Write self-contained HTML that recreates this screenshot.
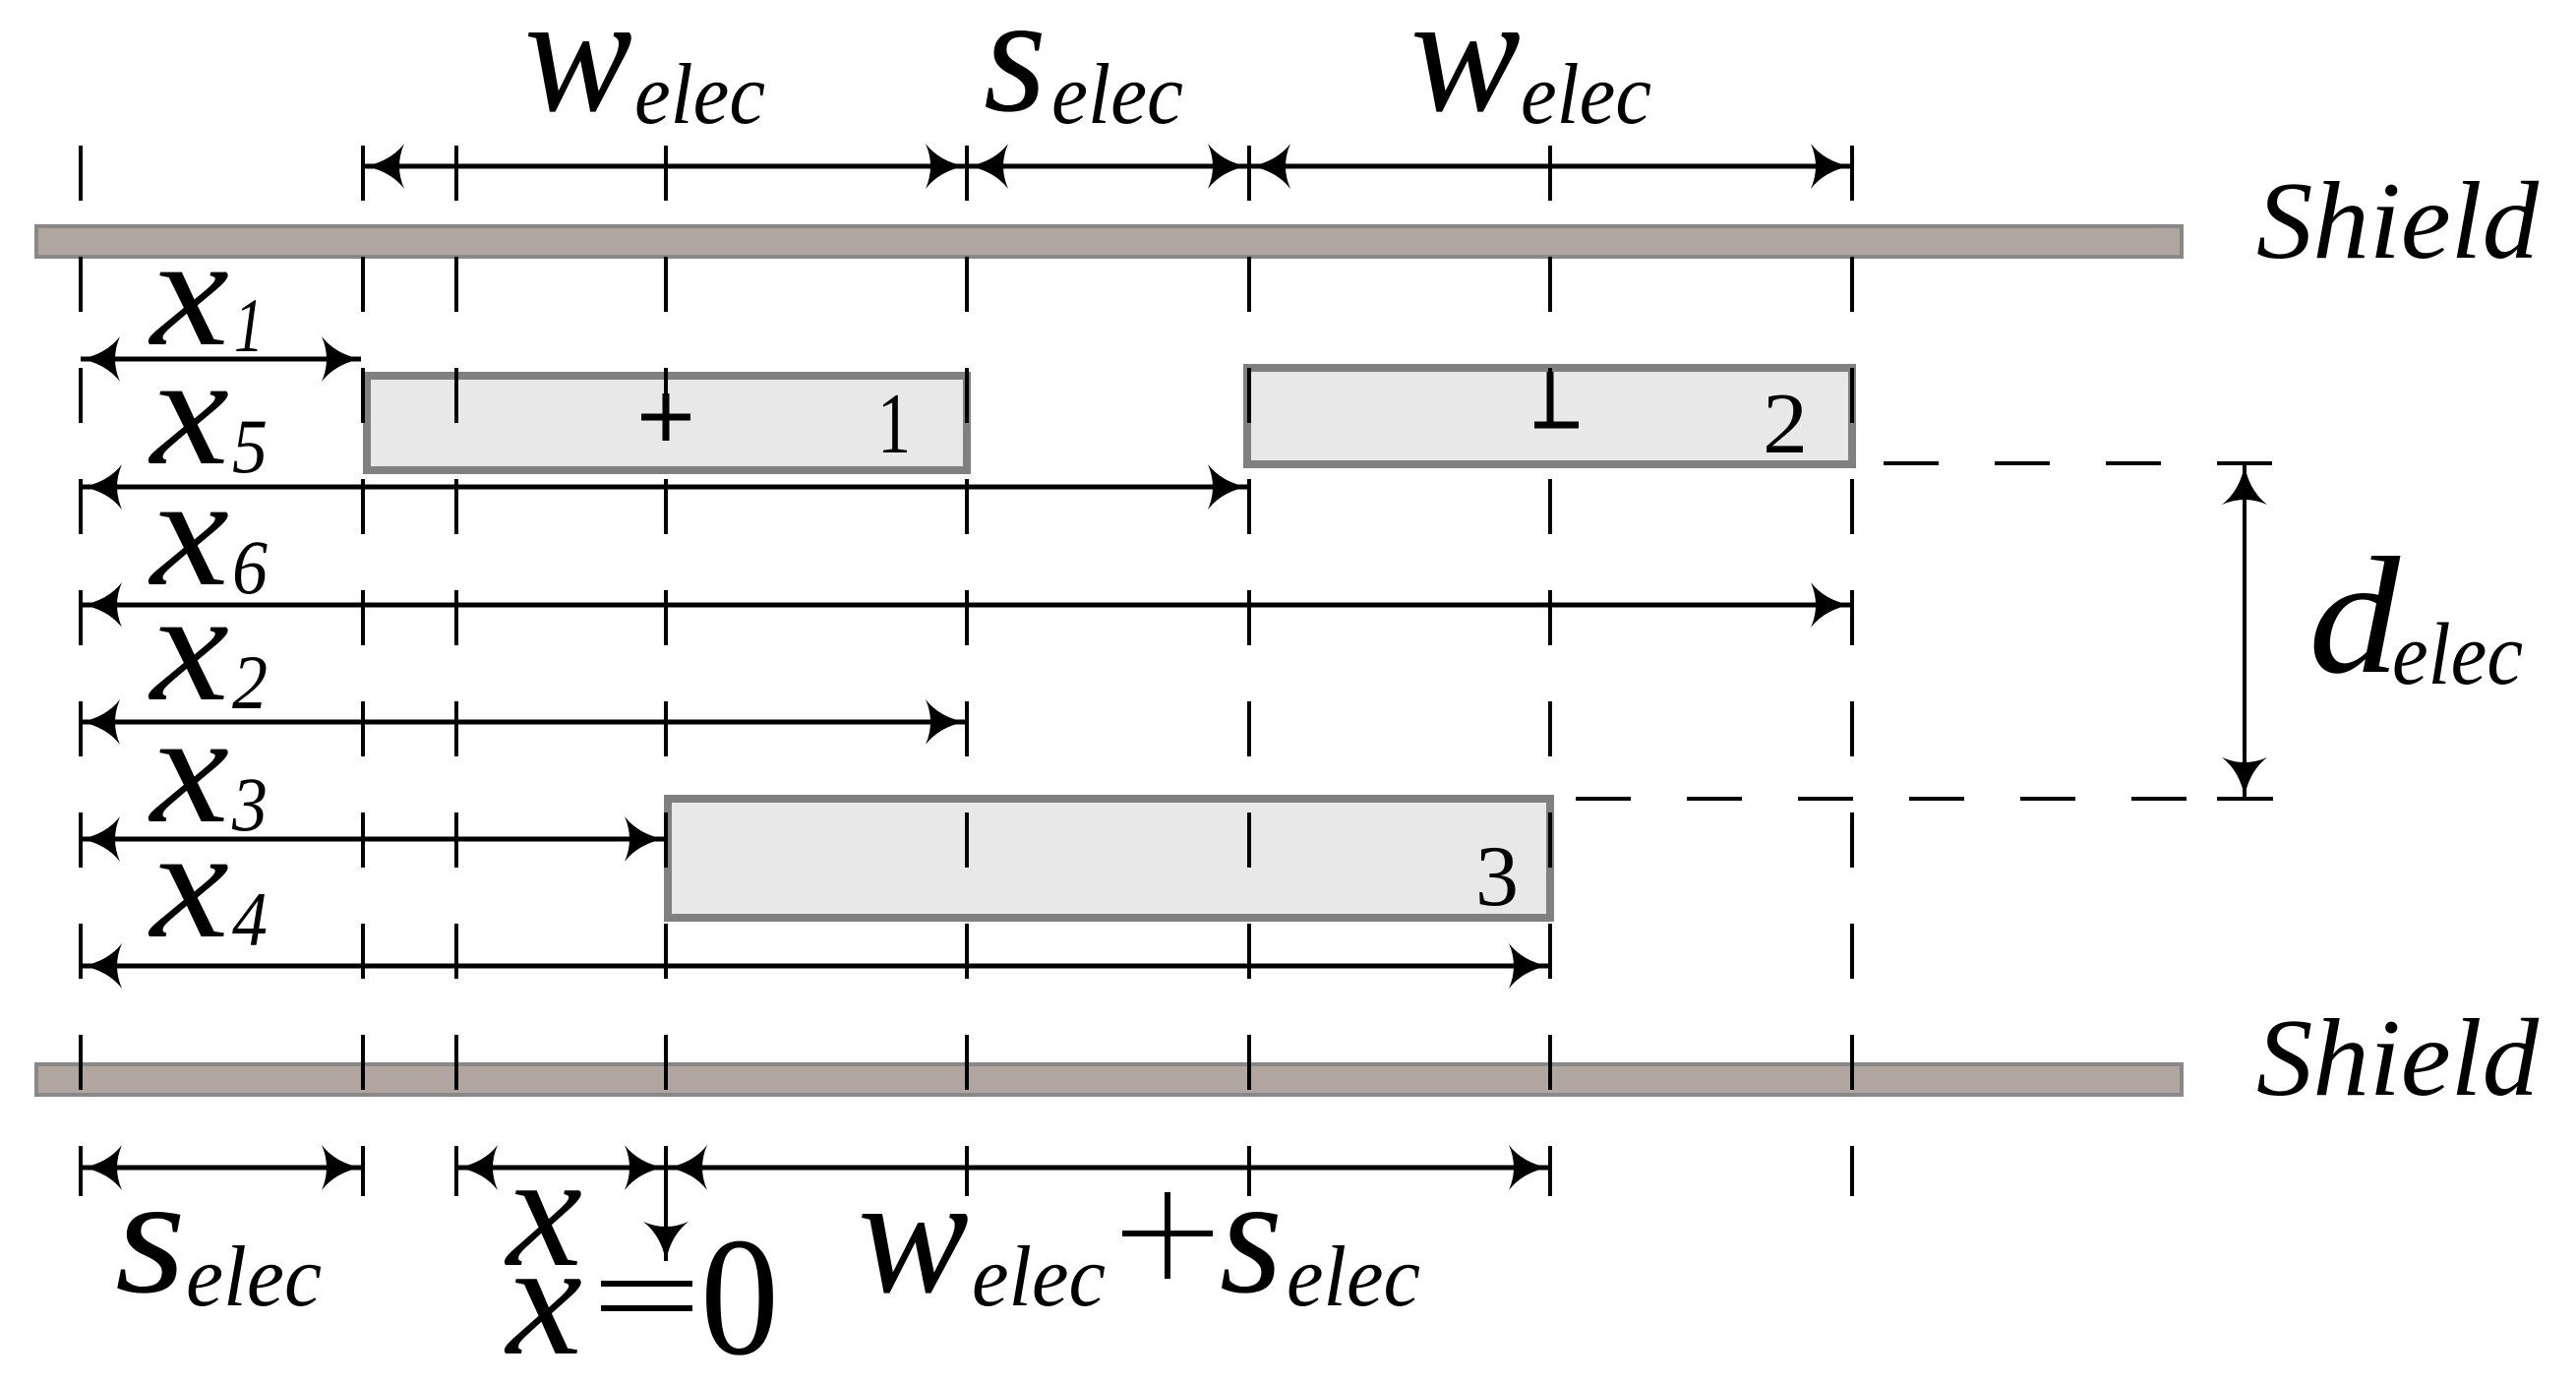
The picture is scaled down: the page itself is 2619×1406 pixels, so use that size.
<!DOCTYPE html>
<html><head><meta charset="utf-8"><style>
html,body{margin:0;padding:0;background:#fff;}
svg{display:block;}
text{font-family:"Liberation Serif",serif;font-style:italic;fill:#000;}
.n{font-style:normal;}
</style></head><body>
<svg width="2619" height="1406" viewBox="0 0 2619 1406" xmlns="http://www.w3.org/2000/svg">
<defs>
<marker id="ah" viewBox="0 0 40 46" refX="40" refY="23" markerWidth="40" markerHeight="46" markerUnits="userSpaceOnUse" orient="auto-start-reverse">
<path d="M0,0 Q14,18 40,23 Q14,28 0,46 Q10,23 0,0 Z" fill="#000"/>
</marker>
</defs>

<!-- shields -->
<rect x="37" y="230" width="2181" height="31" fill="#b0a59f" stroke="#888" stroke-width="4"/>
<rect x="37" y="1082" width="2181" height="31" fill="#b0a59f" stroke="#888" stroke-width="4"/>

<!-- electrodes -->
<rect x="373" y="382" width="610" height="96" fill="#e8e8e8" stroke="#808080" stroke-width="8"/>
<rect x="1268" y="374" width="615" height="98" fill="#e8e8e8" stroke="#808080" stroke-width="8"/>
<rect x="679" y="812" width="897" height="121" fill="#e8e8e8" stroke="#808080" stroke-width="8"/>

<!-- dashed vertical guides -->
<g stroke="#000" stroke-width="4" stroke-dasharray="56 57">
<line x1="82" y1="148" x2="82" y2="1216"/>
<line x1="369" y1="148" x2="369" y2="1216"/>
<line x1="464" y1="148" x2="464" y2="1216"/>
<line x1="677" y1="148" x2="677" y2="1216"/>
<line x1="983" y1="148" x2="983" y2="1216"/>
<line x1="1270" y1="148" x2="1270" y2="1216"/>
<line x1="1576" y1="148" x2="1576" y2="1216"/>
<line x1="1883" y1="148" x2="1883" y2="1216"/>
</g>

<!-- horizontal dashed lines for d_elec -->
<g stroke="#000" stroke-width="4">
<line x1="1915" y1="471" x2="2311" y2="471" stroke-dasharray="56 57"/>
<line x1="1580" y1="812" x2="2311" y2="812" stroke-dasharray="56 57" stroke-dashoffset="-22"/>
<line x1="2254" y1="812" x2="2311" y2="812"/>
</g>

<!-- dimension arrows -->
<g stroke="#000" stroke-width="5" fill="none" marker-start="url(#ah)" marker-end="url(#ah)">
<line x1="371" y1="169" x2="981" y2="169"/>
<line x1="985" y1="169" x2="1268" y2="169"/>
<line x1="1272" y1="169" x2="1881" y2="169"/>
<line x1="82" y1="365" x2="367" y2="365"/>
<line x1="84" y1="495" x2="1268" y2="495"/>
<line x1="84" y1="615" x2="1881" y2="615"/>
<line x1="82" y1="734" x2="981" y2="734"/>
<line x1="82" y1="853" x2="675" y2="853"/>
<line x1="84" y1="982" x2="1574" y2="982"/>
<line x1="84" y1="1187" x2="367" y2="1187"/>
<line x1="466" y1="1187" x2="675" y2="1187"/>
<line x1="679" y1="1187" x2="1574" y2="1187"/>
<line x1="2282" y1="473" x2="2282" y2="810" stroke-width="4"/>
</g>
<line x1="677" y1="1187" x2="677" y2="1282" stroke="#000" stroke-width="4" marker-end="url(#ah)"/>

<!-- electrode symbols -->
<g stroke="#000" stroke-width="7">
<line x1="652" y1="424" x2="702" y2="424"/>
<line x1="677" y1="400" x2="677" y2="448"/>
<line x1="1560" y1="432" x2="1605" y2="432"/>
<line x1="1576" y1="378" x2="1576" y2="432"/>
<line x1="1141" y1="1254" x2="1233" y2="1254" stroke-width="6"/>
<line x1="1187" y1="1212" x2="1187" y2="1300" stroke-width="6"/>
</g>
<text class="n" x="892" y="460" font-size="88" textLength="34" lengthAdjust="spacingAndGlyphs">1</text>
<text class="n" x="1792" y="460" font-size="88" textLength="46" lengthAdjust="spacingAndGlyphs">2</text>
<text class="n" x="1500" y="920" font-size="88" textLength="44" lengthAdjust="spacingAndGlyphs">3</text>

<!-- top labels -->
<text x="533" y="112" font-size="172" textLength="110" lengthAdjust="spacingAndGlyphs">w</text>
<text x="645" y="125" font-size="88" textLength="133" lengthAdjust="spacingAndGlyphs">elec</text>
<text x="1000" y="112" font-size="172" textLength="64" lengthAdjust="spacingAndGlyphs">s</text>
<text x="1069" y="125" font-size="88" textLength="134" lengthAdjust="spacingAndGlyphs">elec</text>
<text x="1434" y="112" font-size="172" textLength="112" lengthAdjust="spacingAndGlyphs">w</text>
<text x="1546" y="125" font-size="88" textLength="133" lengthAdjust="spacingAndGlyphs">elec</text>

<!-- Shield labels -->
<text x="2294" y="262" font-size="112" textLength="287" lengthAdjust="spacingAndGlyphs">Shield</text>
<text x="2294" y="1113" font-size="112" textLength="287" lengthAdjust="spacingAndGlyphs">Shield</text>

<!-- d_elec -->
<text x="2347" y="683" font-size="170" textLength="93" lengthAdjust="spacingAndGlyphs">d</text>
<text x="2432" y="695" font-size="90" textLength="133" lengthAdjust="spacingAndGlyphs">elec</text>

<!-- x labels -->
<g font-size="160">
<text x="153" y="350" textLength="80" lengthAdjust="spacingAndGlyphs">x</text>
<text x="153" y="471" textLength="80" lengthAdjust="spacingAndGlyphs">x</text>
<text x="153" y="594" textLength="80" lengthAdjust="spacingAndGlyphs">x</text>
<text x="153" y="711" textLength="80" lengthAdjust="spacingAndGlyphs">x</text>
<text x="153" y="835" textLength="80" lengthAdjust="spacingAndGlyphs">x</text>
<text x="153" y="952" textLength="80" lengthAdjust="spacingAndGlyphs">x</text>
</g>
<g font-size="78">
<text x="238" y="357" textLength="30" lengthAdjust="spacingAndGlyphs">1</text>
<text x="236" y="480" textLength="36" lengthAdjust="spacingAndGlyphs">5</text>
<text x="236" y="603" textLength="36" lengthAdjust="spacingAndGlyphs">6</text>
<text x="236" y="720" textLength="36" lengthAdjust="spacingAndGlyphs">2</text>
<text x="236" y="844" textLength="36" lengthAdjust="spacingAndGlyphs">3</text>
<text x="236" y="961" textLength="36" lengthAdjust="spacingAndGlyphs">4</text>
</g>

<!-- bottom labels -->
<text x="117" y="1313" font-size="172" textLength="72" lengthAdjust="spacingAndGlyphs">s</text>
<text x="189" y="1327" font-size="88" textLength="138" lengthAdjust="spacingAndGlyphs">elec</text>
<text x="515" y="1286" font-size="165" textLength="77" lengthAdjust="spacingAndGlyphs">x</text>
<text x="515" y="1376" font-size="165" textLength="77" lengthAdjust="spacingAndGlyphs">x</text>
<rect x="611" y="1302" width="93" height="6" fill="#000"/>
<rect x="611" y="1327" width="93" height="6" fill="#000"/>
<text class="n" x="712" y="1376" font-size="172" textLength="80" lengthAdjust="spacingAndGlyphs">0</text>
<text x="872" y="1313" font-size="172" textLength="113" lengthAdjust="spacingAndGlyphs">w</text>
<text x="988" y="1327" font-size="88" textLength="136" lengthAdjust="spacingAndGlyphs">elec</text>
<text x="1240" y="1313" font-size="172" textLength="64" lengthAdjust="spacingAndGlyphs">s</text>
<text x="1308" y="1327" font-size="88" textLength="136" lengthAdjust="spacingAndGlyphs">elec</text>
</svg>
</body></html>
